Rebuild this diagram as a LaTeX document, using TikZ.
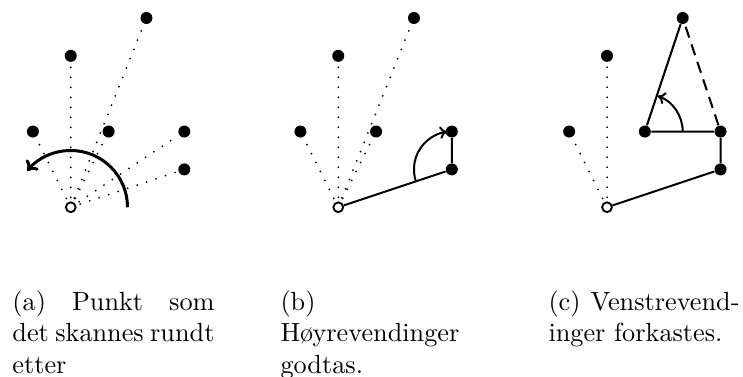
\documentclass[tikz,border=0pt]{standalone}
\usetikzlibrary{arrows.meta}
\tikzset{
  dot/.style={circle,fill,inner sep=0pt,minimum size=4.8pt},
  pivot/.style={circle,draw,fill=white,line width=0.75pt,inner sep=0pt,minimum size=3.9pt},
  scan/.style={line width=0.8pt,dash pattern=on 0pt off 4pt,line cap=round},
  edge/.style={line width=0.8pt},
  reject/.style={line width=0.8pt,dash pattern=on 4.6pt off 2.8pt},
  turn/.style={line width=0.8pt,-{To[length=3pt,width=5pt]}},
  sweep/.style={line width=1.2pt,-{To[length=3.6pt,width=6.4pt]}},
  captext/.style={anchor=north west,inner sep=0pt,align=justify,
    font=\fontsize{10.5}{12.5}\selectfont,
    execute at begin node={\hyphenpenalty=10000\exhyphenpenalty=10000\tolerance=10000}},
  unitgrid/.style={x=15.14pt,y=15.14pt}
}
\begin{document}
\begin{tikzpicture}
\useasboundingbox (0,0) rectangle (297.2pt,150.4pt);

% (a) scanning round the lowest point
\begin{scope}[shift={(28.3pt,67.5pt)},unitgrid]
  \node[dot] (a1) at (-1,2) {};
  \node[dot] (a2) at (0,4) {};
  \node[dot] (a3) at (1,2) {};
  \node[dot] (a4) at (2,5) {};
  \node[dot] (a5) at (3,2) {};
  \node[dot] (a6) at (3,1) {};
  \foreach \n in {1,...,6} \draw[scan] (0,0) -- (a\n);
  \node[pivot] (a0) at (0,0) {};
  \draw[sweep] ([shift={(0:22.7pt)}]a0.center) arc[start angle=0,end angle=140,radius=22.7pt];
\end{scope}

% (b) right turns are kept
\begin{scope}[shift={(135.3pt,67.5pt)},unitgrid]
  \node[dot] (b1) at (-1,2) {};
  \node[dot] (b2) at (0,4) {};
  \node[dot] (b3) at (1,2) {};
  \node[dot] (b4) at (2,5) {};
  \node[dot] (b5) at (3,2) {};
  \node[dot] (b6) at (3,1) {};
  \foreach \n in {1,...,4} \draw[scan] (0,0) -- (b\n);
  \node[pivot] (b0) at (0,0) {};
  \draw[edge] (b0) -- (b6) -- (b5);
  \draw[turn] ([shift={(198.43:15.14pt)}]b6.center) arc[start angle=198.43,end angle=97,radius=15.14pt];
\end{scope}

% (c) left turns are discarded
\begin{scope}[shift={(242.8pt,67.5pt)},unitgrid]
  \node[dot] (c1) at (-1,2) {};
  \node[dot] (c2) at (0,4) {};
  \node[dot] (c3) at (1,2) {};
  \node[dot] (c4) at (2,5) {};
  \node[dot] (c5) at (3,2) {};
  \node[dot] (c6) at (3,1) {};
  \foreach \n in {1,2} \draw[scan] (0,0) -- (c\n);
  \node[pivot] (c0) at (0,0) {};
  \draw[edge] (c0) -- (c6) -- (c5) -- (c3) -- (c4);
  \draw[reject] (c5) -- (c4);
  \draw[turn] ([shift={(0:15.14pt)}]c3.center) arc[start angle=0,end angle=70,radius=15.14pt];
\end{scope}

% captions
\node[captext,text width=80.8pt] (capa) at (4.8pt,34.2pt)
  {(a) Punkt som\linebreak det skannes rundt\linebreak etter};
\node[captext,text width=80.8pt] (capb) at (112pt,34.2pt)
  {(b)\linebreak H\o yrevendinger\linebreak godtas.};
\node[captext,text width=76.4pt] (capc) at (219.2pt,34.2pt)
  {(c) Venstrevend-\linebreak inger forkastes.};
\end{tikzpicture}
\end{document}
